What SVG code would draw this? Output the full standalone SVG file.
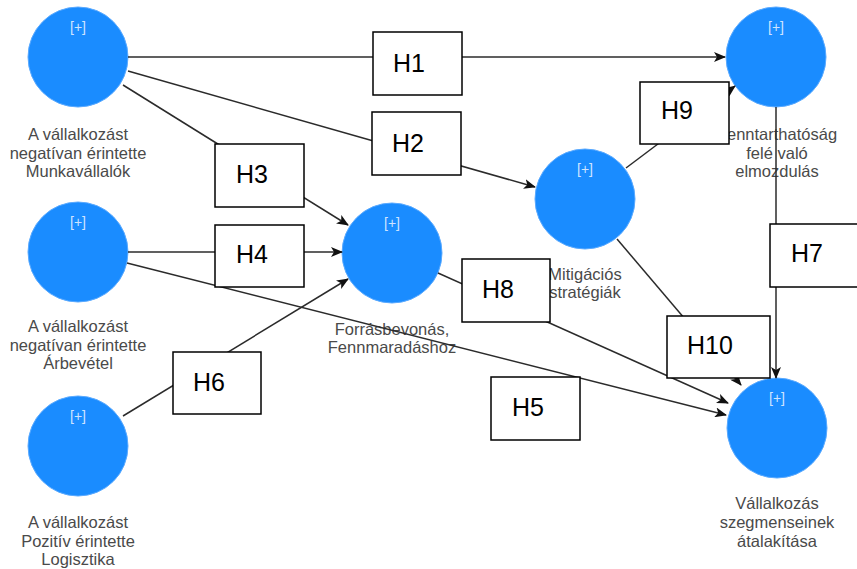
<svg xmlns="http://www.w3.org/2000/svg" width="857" height="569" viewBox="0 0 857 569">
<defs>
<style>
.node circle{fill:#1a8cff;stroke:#5aaaff;stroke-width:1}
.plus{font-family:"Liberation Sans",Arial,sans-serif;font-size:14px;fill:#cfe4ff;text-anchor:middle}
.lbl{font-family:"Liberation Sans",Arial,sans-serif;font-size:16.5px;fill:#4a4a4a;text-anchor:middle}
.edge{stroke:#2b2b2b;stroke-width:1.5;fill:none}
.hbox{fill:#ffffff;stroke:#000000;stroke-width:1.5}
.htxt{font-family:"Liberation Sans",Arial,sans-serif;font-size:25px;fill:#000000}
</style>
<marker id="arr" viewBox="0 0 12 10" refX="11" refY="5" markerWidth="12" markerHeight="10" markerUnits="userSpaceOnUse" orient="auto">
<path d="M0,0 L12,5 L0,10 L3,5 z" fill="#111111"/>
</marker>
</defs>
<rect width="857" height="569" fill="#ffffff"/>

<g id="node-munkavallalok" class="node">
<circle cx="78" cy="57" r="50"/>
<text class="plus" x="78" y="32">[+]</text>
<text class="lbl" x="78" y="140">A vállalkozást</text>
<text class="lbl" x="78" y="158.5">negatívan érintette</text>
<text class="lbl" x="78" y="177">Munkavállalók</text>
</g>
<g id="node-arbevetel" class="node">
<circle cx="78" cy="252" r="50"/>
<text class="plus" x="78" y="227">[+]</text>
<text class="lbl" x="78" y="332">A vállalkozást</text>
<text class="lbl" x="78" y="350.5">negatívan érintette</text>
<text class="lbl" x="78" y="369">Árbevétel</text>
</g>
<g id="node-logisztika" class="node">
<circle cx="78" cy="446" r="50"/>
<text class="plus" x="78" y="421">[+]</text>
<text class="lbl" x="78" y="528">A vállalkozást</text>
<text class="lbl" x="78" y="546.5">Pozitív érintette</text>
<text class="lbl" x="78" y="565">Logisztika</text>
</g>
<g id="node-forrasbevonas" class="node">
<circle cx="392" cy="253" r="50"/>
<text class="plus" x="392" y="228">[+]</text>
<text class="lbl" x="392" y="335">Forrásbevonás,</text>
<text class="lbl" x="392" y="353">Fennmaradáshoz</text>
</g>
<g id="node-mitigacios" class="node">
<circle cx="585" cy="199" r="50"/>
<text class="plus" x="585" y="174">[+]</text>
<text class="lbl" x="585" y="280">Mitigációs</text>
<text class="lbl" x="585" y="298">stratégiák</text>
</g>
<g id="node-fenntarthatosag" class="node">
<circle cx="776" cy="57" r="50"/>
<text class="plus" x="776" y="32">[+]</text>
<text class="lbl" x="777" y="140">Fenntarthatóság</text>
<text class="lbl" x="777" y="158.5">felé való</text>
<text class="lbl" x="777" y="177">elmozdulás</text>
</g>
<g id="node-szegmensek" class="node">
<circle cx="777" cy="428" r="50"/>
<text class="plus" x="777" y="403">[+]</text>
<text class="lbl" x="777" y="509">Vállalkozás</text>
<text class="lbl" x="777" y="528">szegmenseinek</text>
<text class="lbl" x="777" y="547">átalakítása</text>
</g>

<g id="connectors">
<line class="edge" x1="128" y1="57" x2="725" y2="57" marker-end="url(#arr)"/>
<line class="edge" x1="128" y1="71" x2="535" y2="187" marker-end="url(#arr)"/>
<line class="edge" x1="123" y1="85" x2="348" y2="225" marker-end="url(#arr)"/>
<line class="edge" x1="128" y1="252" x2="342" y2="252" marker-end="url(#arr)"/>
<line class="edge" x1="127" y1="263" x2="726" y2="415" marker-end="url(#arr)"/>
<line class="edge" x1="123" y1="416" x2="348" y2="279" marker-end="url(#arr)"/>
<line class="edge" x1="776" y1="107" x2="776" y2="378" marker-end="url(#arr)"/>
<line class="edge" x1="438" y1="273" x2="728" y2="403" marker-end="url(#arr)"/>
<line class="edge" x1="626" y1="168" x2="735" y2="86" marker-end="url(#arr)"/>
<line class="edge" x1="617" y1="239" x2="741" y2="385" marker-end="url(#arr)"/>

<g id="label-H1"><rect class="hbox" x="373" y="32" width="89" height="63"/><text class="htxt" x="393" y="72">H1</text></g>
<g id="label-H2"><rect class="hbox" x="372" y="112" width="89" height="63"/><text class="htxt" x="392" y="152">H2</text></g>
<g id="label-H3"><rect class="hbox" x="215" y="144" width="89" height="63"/><text class="htxt" x="236" y="183">H3</text></g>
<g id="label-H4"><rect class="hbox" x="215" y="225" width="89" height="62"/><text class="htxt" x="236" y="263">H4</text></g>
<g id="label-H5"><rect class="hbox" x="491" y="377" width="89" height="63"/><text class="htxt" x="512" y="416">H5</text></g>
<g id="label-H6"><rect class="hbox" x="173" y="352" width="88" height="62"/><text class="htxt" x="193" y="391">H6</text></g>
<g id="label-H7"><rect class="hbox" x="770" y="224" width="90" height="63"/><text class="htxt" x="791" y="262">H7</text></g>
<g id="label-H8"><rect class="hbox" x="462" y="259" width="88" height="63"/><text class="htxt" x="482" y="298">H8</text></g>
<g id="label-H9"><rect class="hbox" x="640" y="82" width="89" height="62"/><text class="htxt" x="661" y="119">H9</text></g>
<g id="label-H10"><rect class="hbox" x="667" y="316" width="103" height="62"/><text class="htxt" x="687" y="354">H10</text></g>
</g>
</svg>
